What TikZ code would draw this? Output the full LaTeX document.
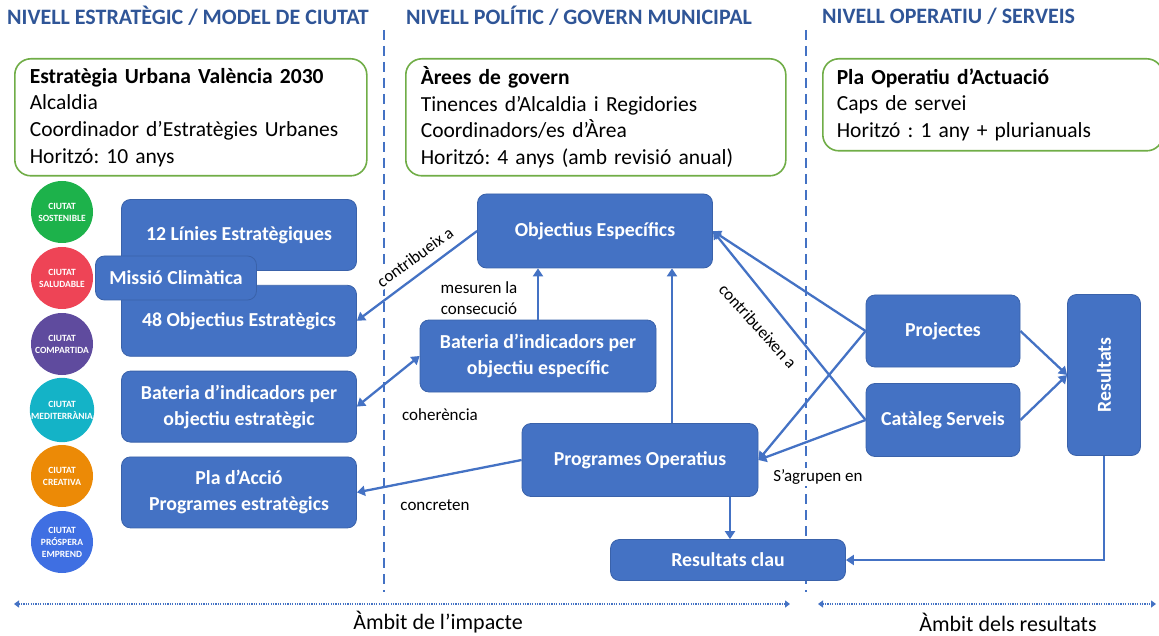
\documentclass[tikz,border=0pt]{standalone}
\usepackage{fontspec}
\setmainfont{Carlito}
\frenchspacing
\usetikzlibrary{arrows.meta, positioning}
\definecolor{boxblue}{HTML}{4472C4}
\definecolor{boxedge}{HTML}{3A62AA}
\definecolor{headblue}{HTML}{2F5597}
\definecolor{framegreen}{HTML}{70AD47}
\definecolor{cgreen}{HTML}{1DB24B}
\definecolor{cred}{HTML}{EE4456}
\definecolor{cpurple}{HTML}{5F4B9E}
\definecolor{cteal}{HTML}{14B3C7}
\definecolor{corange}{HTML}{EC8A06}
\definecolor{cblue}{HTML}{3F6FE2}
\tikzset{
  level/.style={anchor=west, inner sep=0pt, text=headblue, font=\fontsize{22}{26}\selectfont\bfseries},
  frame/.style={rectangle, rounded corners=16pt, draw=framegreen, line width=1.6pt, fill=white, anchor=north west, align=left, inner xsep=15pt, inner ysep=4pt, font=\fontsize{21.5}{26.7}\selectfont},
  ciutat/.style={circle, minimum size=62pt, inner sep=0pt, text=white, align=center, font=\fontsize{9.5}{12}\selectfont\bfseries},
  blok/.style={rectangle, rounded corners=9pt, draw=boxedge, line width=0.8pt, fill=boxblue, text=white, align=center, minimum width=235pt, minimum height=71pt, inner sep=3pt, font=\fontsize{19.8}{26}\selectfont\bfseries},
  conn/.style={-{Triangle[length=8pt, width=10pt]}, line width=2.3pt, boxblue},
  lbl/.style={fill=white, inner sep=2pt, font=\fontsize{17}{21}\selectfont},
  divider/.style={boxblue, line width=2pt, dash pattern=on 10pt off 6pt},
  span/.style={{Triangle[length=5pt, width=7pt]}-{Triangle[length=5pt, width=7pt]}, boxblue, line width=2pt, dash pattern=on 1.2pt off 1.2pt},
  ambit/.style={font=\fontsize{22}{24}\selectfont},
}

\begin{document}
\begin{tikzpicture}[x=1pt, y=-1pt]
\useasboundingbox (0,0) rectangle (1159,636);

% dividers between the three levels
\coordinate (d1a) at (384,30); \coordinate (d1b) at (384,592);
\coordinate (d2a) at (806,30); \coordinate (d2b) at (806,592);
\draw[divider] (d1a) -- (d1b);
\draw[divider] (d2a) -- (d2b);

\node[level] (hstr) at (7,16) {NIVELL ESTRATÈGIC / MODEL DE CIUTAT};
\node[level] (hpol) at (406,16) {NIVELL POLÍTIC / GOVERN MUNICIPAL};
\node[level] (hope) at (822,16) {NIVELL OPERATIU / SERVEIS};

\node[frame, minimum width=352pt, minimum height=117pt, text width=322pt] (fstr) at (14,58) {\textbf{Estratègia Urbana València 2030}\\Alcaldia\\Coordinador d’Estratègies Urbanes\\Horitzó: 10 anys};
\node[frame, minimum width=380pt, minimum height=117pt, text width=350pt] (fpol) at (405,58) {\textbf{Àrees de govern}\\Tinences d'Alcaldia i Regidories\\Coordinadors/es d’Àrea\\Horitzó: 4 anys (amb revisió anual)};
\node[frame, minimum width=340pt, minimum height=92pt, text width=312pt, inner xsep=14pt] (fope) at (822,58) {\textbf{Pla Operatiu d’Actuació}\\Caps de servei\\Horitzó : 1 any + plurianuals};

\foreach \i/\col/\txt in {1/cgreen/{CIUTAT\\SOSTENIBLE}, 2/cred/{CIUTAT\\SALUDABLE}, 3/cpurple/{CIUTAT\\COMPARTIDA}, 4/cteal/{CIUTAT\\MEDITERRÀNIA}, 5/corange/{CIUTAT\\CREATIVA}, 6/cblue/{CIUTAT\\PRÓSPERA\\EMPREND}}
  \node[ciutat, fill=\col] (c\i) at (62,{146+66*\i}) {\txt};

% strategic column
\node[blok] (lin) at (239,235) {12 Línies Estratègiques};
\node[blok, below=14pt of lin] (oest) {48 Objectius Estratègics};
\node[blok, below=14pt of oest] (bioe) {Bateria d’indicadors per\\objectiu estratègic};
\node[blok, below=14pt of bioe] (pla) {Pla d’Acció\\Programes estratègics};
\node[blok, minimum width=161pt, minimum height=44pt] (mis) at (176,278) {Missió Climàtica};

% political column
\node[blok, minimum height=74pt] (oesp) at (595,231) {Objectius Específics};
\node[blok, minimum width=236pt, minimum height=72pt] (bie) at (538,356) {Bateria d’indicadors per\\objectiu específic};
\node[blok, minimum width=236pt, minimum height=73pt] (prog) at (640,460) {Programes Operatius};
\node[blok, minimum height=41pt] (clau) at (728,560) {Resultats clau};

% operative column
\node[blok, minimum width=154pt, minimum height=72pt] (proj) at (943,331) {Projectes};
\node[blok, minimum width=154pt, minimum height=73pt] (cat) at (943,420) {Catàleg Serveis};
\node[blok, minimum width=161pt, minimum height=73pt, rotate=90] (res) at (1104,375) {Resultats};

\node[lbl, rotate=36] (lcon) at (415,257) {contribueix a};
\node[lbl, align=center] (lmes) at (479,298) {mesuren la\\consecució};
\node[lbl] (lcoh) at (440,415) {coherència};
\node[lbl] (lcnc) at (435,505) {concreten};
\node[lbl, rotate=-48] (lcnx) at (758,326) {contribueixen a};
\node[lbl] (lagr) at (818,477) {S’agrupen en};

\draw[conn] (oesp.west) -- (oest.east);
\draw[conn, {Triangle[length=8pt, width=10pt]}-{Triangle[length=8pt, width=10pt]}] (bie.west) -- (bioe.east);
\draw[conn] (bie.north) -- (bie.north |- oesp.south);
\draw[conn] ([xshift=32pt]prog.north) -- ([xshift=32pt]prog.north |- oesp.south);
\draw[conn] (prog.west) -- (pla.east);
\draw[conn] ([xshift=90pt]prog.south) -- ([xshift=90pt]prog.south |- clau.north);
\draw[conn] (proj.west) -- (oesp.east);
\draw[conn] (cat.west) -- (oesp.east);
\draw[conn] (proj.west) -- (prog.east);
\draw[conn] (cat.west) -- (prog.east);
\draw[conn] (proj.east) -- (res.north);
\draw[conn] (cat.east) -- (res.north);
\draw[conn] (res.west) |- (clau.east);

% scope of each level
\coordinate (ia) at (14,604); \coordinate (ib) at (790,604);
\coordinate (ra) at (818,604); \coordinate (rb) at (1156,604);
\draw[span] (ia) -- (ib);
\draw[span] (ra) -- (rb);
\node[ambit] (aimp) at (438,622) {Àmbit de l’impacte};
\node[ambit] (ares) at (1008,622) {Àmbit dels resultats};
\end{tikzpicture}
\end{document}
